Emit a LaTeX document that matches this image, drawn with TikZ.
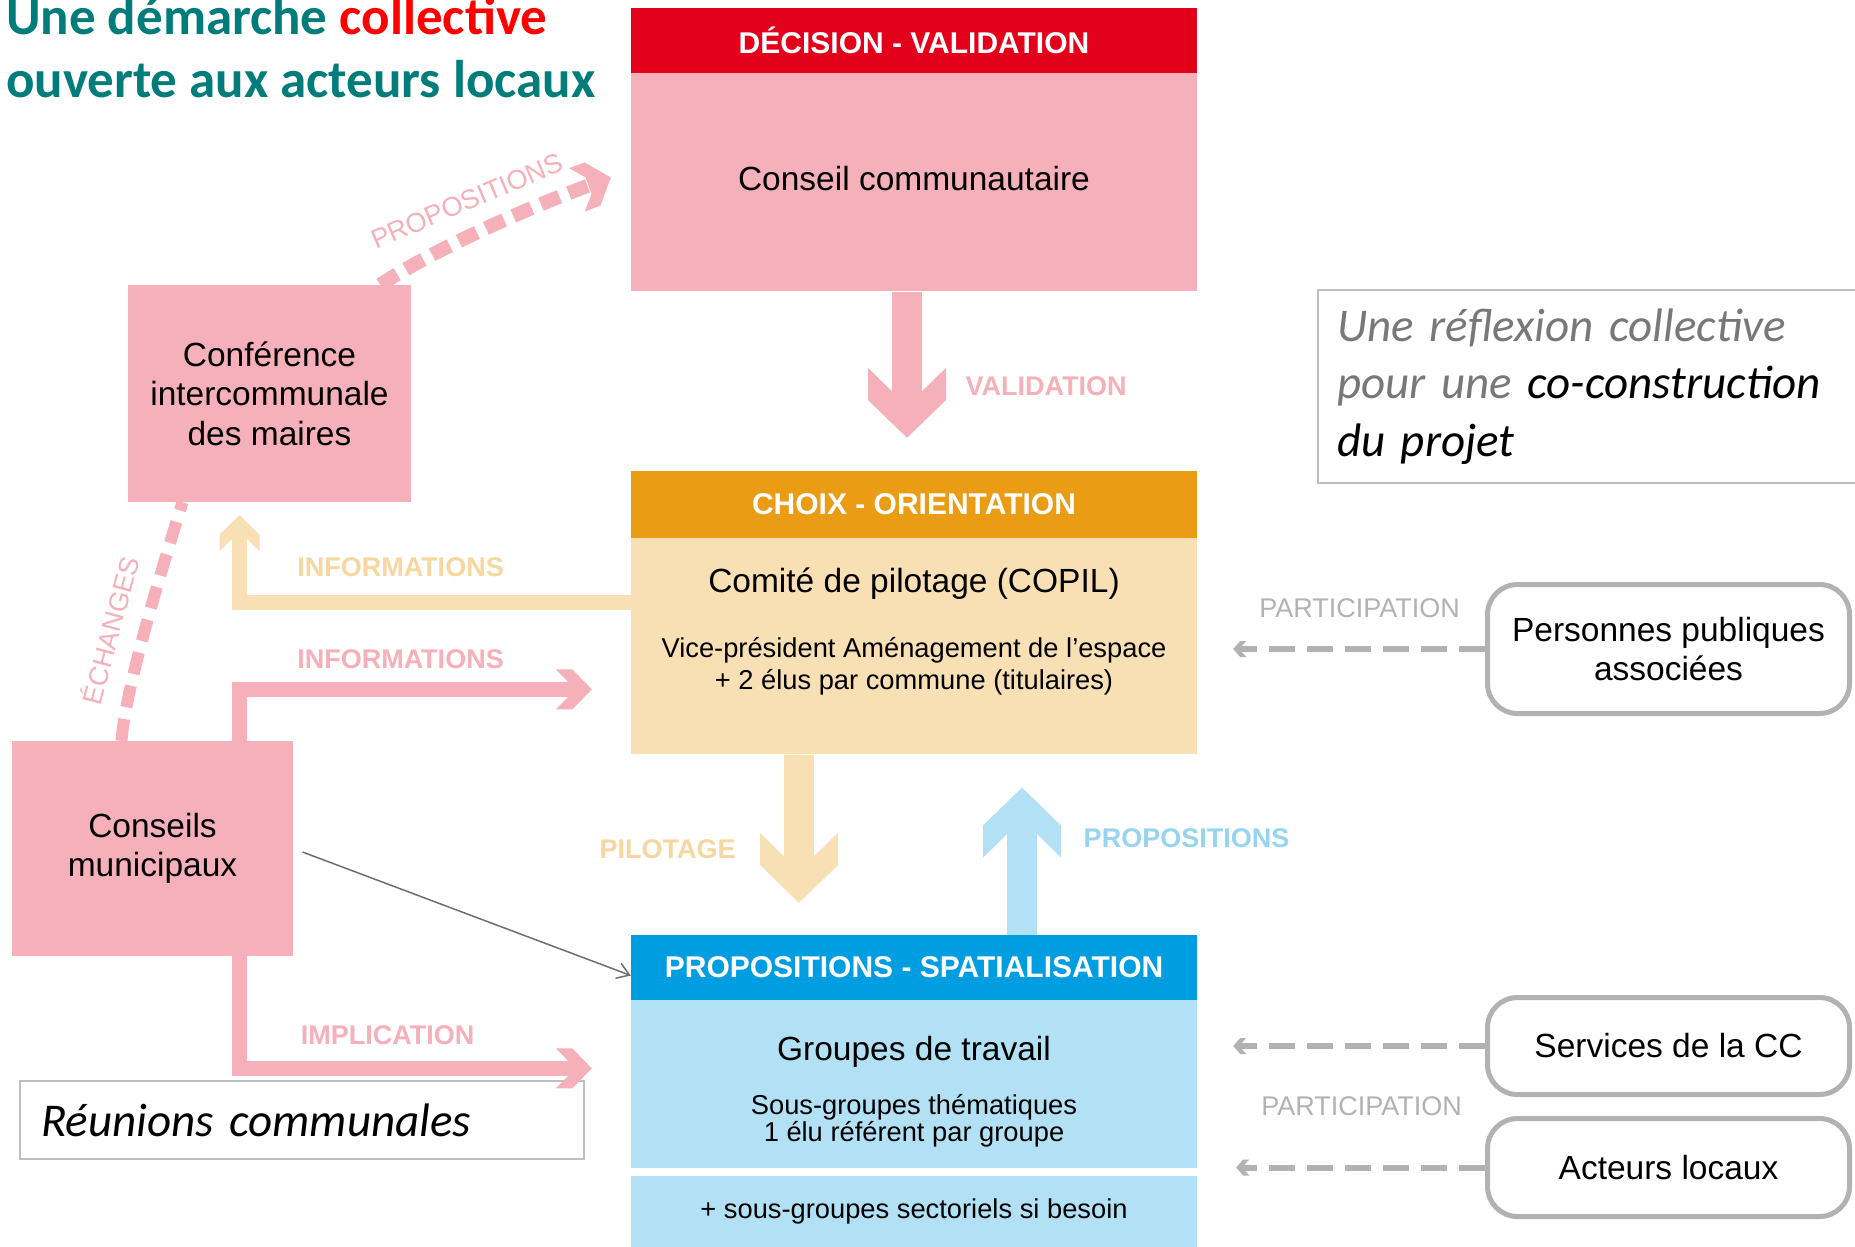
\documentclass[tikz,border=0pt]{standalone}
\usepackage{fontspec}
\setmainfont{Liberation Sans}
\newfontfamily\calibrifam{Carlito}
\usetikzlibrary{arrows.meta, positioning, calc}

\definecolor{titleteal}{RGB}{0,124,122}
\definecolor{titlered}{RGB}{255,0,0}
\definecolor{decisionred}{RGB}{226,0,26}
\definecolor{rosebody}{RGB}{245,176,185}
\definecolor{choixorange}{RGB}{233,156,20}
\definecolor{beigebody}{RGB}{248,223,180}
\definecolor{beigelabel}{RGB}{247,214,160}
\definecolor{propblue}{RGB}{0,158,224}
\definecolor{bluebody}{RGB}{178,225,245}
\definecolor{bluelabel}{RGB}{150,212,240}
\definecolor{partgrey}{RGB}{178,178,178}
\definecolor{notegrey}{RGB}{190,190,190}
\definecolor{notegreytext}{RGB}{120,120,120}
\definecolor{linkgrey}{RGB}{110,110,110}

\newcommand{\boxtxt}{\fontsize{33.5}{39.5}\selectfont}
\newcommand{\headtxt}{\fontsize{30}{36}\selectfont\bfseries}
\newcommand{\subtxt}{\fontsize{27.3}{32}\selectfont}
\newcommand{\arrowlbl}{\fontsize{27}{32}\selectfont\bfseries}
\newcommand{\flowlbl}{\fontsize{27}{32}\selectfont}
\newcommand{\notetxt}{\calibrifam\itshape\fontsize{47}{57.5}\selectfont}

% block arrow head with a notched back
\pgfdeclarearrow{
  name = Chevron,
  parameters = {\the\pgfarrowlength,\the\pgfarrowwidth},
  setup code = {
    \pgfarrowssettipend{0pt}
    \pgfarrowssetlineend{-.6\pgfarrowlength}
    \pgfarrowssetbackend{-\pgfarrowlength}
    \pgfarrowssetvisualbackend{-.6\pgfarrowlength}
    \pgfarrowssavethe\pgfarrowlength
    \pgfarrowssavethe\pgfarrowwidth
  },
  drawing code = {
    \pgfpathmoveto{\pgfpointorigin}
    \pgfpathlineto{\pgfqpoint{-.54\pgfarrowlength}{.5\pgfarrowwidth}}
    \pgfpathlineto{\pgfqpoint{-\pgfarrowlength}{.5\pgfarrowwidth}}
    \pgfpathlineto{\pgfqpoint{-.66\pgfarrowlength}{.19\pgfarrowwidth}}
    \pgfpathlineto{\pgfqpoint{-.66\pgfarrowlength}{-.19\pgfarrowwidth}}
    \pgfpathlineto{\pgfqpoint{-\pgfarrowlength}{-.5\pgfarrowwidth}}
    \pgfpathlineto{\pgfqpoint{-.54\pgfarrowlength}{-.5\pgfarrowwidth}}
    \pgfpathclose
    \pgfusepathqfill
  },
  defaults = {length = 70pt, width = 78pt}
}

\tikzset{
  stagehead/.style={minimum width=566pt, minimum height=65pt, inner sep=0pt, text=white, font=\headtxt},
  stagebody/.style={minimum width=566pt, inner sep=0pt, align=center, font=\boxtxt},
  instance/.style={fill=rosebody, inner sep=0pt, align=center, font=\boxtxt},
  partner/.style={draw=partgrey, line width=5pt, rounded corners=30pt, minimum width=362pt, inner sep=0pt, align=center, font=\boxtxt},
  notebox/.style={draw=notegrey, line width=1.2pt, inner ysep=0pt, align=left, font=\notetxt},
  bigflow/.style={line width=30pt, -{Chevron[length=70pt,width=78pt]}},
  smallflow/.style={line width=15pt, -{Chevron[length=36pt,width=40pt]}},
  pinkdash/.style={color=rosebody, dash pattern=on 20pt off 10pt},
  partflow/.style={color=partgrey, line width=6pt, dash pattern=on 26pt off 12pt, -{Chevron[length=13pt,width=16pt]}},
  thinflow/.style={draw=linkgrey, line width=1.5pt, shorten <=10pt, -{Straight Barb[length=12pt,width=16pt]}},
  flowlabel/.style={inner sep=0pt, font=\arrowlbl},
  partlabel/.style={inner sep=0pt, font=\flowlbl, text=partgrey},
  curvelabel/.style={inner sep=0pt, font=\flowlbl, text=rosebody},
}

\begin{document}
\begin{tikzpicture}[x=1pt, y=-1pt]
  \useasboundingbox (0,0) rectangle (1855,1247);

  % title
  \node[anchor=base west, align=left, inner sep=0pt, text=titleteal,
        font=\calibrifam\bfseries\fontsize{53}{63}\selectfont] (title) at (6,97)
    {Une démarche \textcolor{titlered}{collective}\\ouverte aux acteurs locaux};

  % the three stages
  \node[stagehead, fill=decisionred] (dechead) at (914,40.5) {DÉCISION - VALIDATION};
  \node[stagebody, fill=rosebody, minimum height=218pt, below=0pt of dechead] (conseilcc) {};
  \node[font=\boxtxt] (conseiltxt) at ([yshift=4pt]conseilcc.center) {Conseil communautaire};

  \node[stagehead, fill=choixorange, minimum height=67pt] (choixhead) at (914,504.5) {CHOIX - ORIENTATION};
  \node[stagebody, fill=beigebody, minimum height=216pt, below=0pt of choixhead] (copil) {};
  \node[font=\boxtxt] (copiltitle) at ([yshift=62.5pt]copil.center) {Comité de pilotage (COPIL)};
  \node[font=\subtxt, align=center] (copilsub) at ([yshift=-19.5pt]copil.center)
    {Vice-président Aménagement de l’espace\\+ 2 élus par commune (titulaires)};

  \node[stagehead, fill=propblue] (propshead) at (914,967.5) {PROPOSITIONS - SPATIALISATION};
  \node[stagebody, fill=bluebody, minimum height=168pt, below=0pt of propshead] (groupes) {};
  \node[font=\boxtxt] (groupestitle) at ([yshift=32.5pt]groupes.center) {Groupes de travail};
  \node[font=\subtxt, align=center] (groupessub) at ([yshift=-36pt]groupes.center)
    {Sous-groupes thématiques\\[-5pt]1 élu référent par groupe};
  \node[stagebody, fill=bluebody, minimum height=72pt, font=\subtxt, below=7pt of groupes] (sectoriels)
    {+ sous-groupes sectoriels si besoin};

  % local bodies
  \node[instance, minimum width=283pt, minimum height=217pt] (conf) at (269.5,393.5) {Conférence\\intercommunale\\des maires};
  \node[instance, minimum width=281pt, minimum height=215pt] (munic) at (152.5,848.5) {Conseils\\municipaux};

  % partners
  \node[partner, minimum height=129pt] (ppa) at (1668.5,649) {Personnes publiques\\associées};
  \node[partner, minimum height=97pt] (services) at (1668.5,1046) {Services de la CC};
  \node[partner, minimum height=98pt] (acteurs) at (1668.5,1167.5) {Acteurs locaux};

  % notes
  \node[notebox, minimum width=564pt, minimum height=78pt, inner xsep=21pt, text width=522pt] (reunions) at (302,1120)
    {Réunions communales};
  \node[notebox, minimum height=193pt, inner xsep=19pt, text width=530pt, text=notegreytext] (reflexion) at (1602,386.5)
    {Une réflexion collective\\pour une \textcolor{black}{co-construction}\\\textcolor{black}{du projet}};

  % flows between stages
  \draw[bigflow, color=rosebody] ([xshift=-7pt]conseilcc.south) -- ([xshift=-7pt,yshift=33pt]choixhead.north);
  \draw[bigflow, color=beigebody] ([xshift=-115pt]copil.south) -- ([xshift=-115pt,yshift=32pt]propshead.north);
  \draw[bigflow, color=bluebody] ([xshift=108pt]propshead.north) -- ([xshift=108pt,yshift=-33pt]copil.south);

  \draw[smallflow, color=beigebody] ([yshift=44pt]copil.west) -| ([xshift=-30pt,yshift=-13pt]conf.south);
  \draw[smallflow, color=rosebody] ([xshift=87pt]munic.north) |- ([xshift=-39pt,yshift=-43pt]copil.west);
  \draw[smallflow, color=rosebody] ([xshift=87pt]munic.south) |- ([xshift=-39pt,yshift=16pt]groupes.west);

  \draw[pinkdash, line width=14pt, -{Chevron[length=36pt,width=46pt]}] ([xshift=-31pt]conf.north east)
    .. controls +(50,-33) and +(-90,33) .. ([xshift=-20pt,yshift=5pt]conseilcc.west);
  \draw[pinkdash, line width=12pt, dash pattern=on 22pt off 12pt] ([xshift=-31pt]munic.north)
    .. controls +(4,-55) and +(-17,55) .. ([xshift=-87pt]conf.south);

  \draw[partflow, shorten >=36pt] (ppa.west) -- (ppa.west -| copil.east);
  \draw[partflow, shorten >=36pt] (services.west) -- (services.west -| groupes.east);
  \draw[partflow, shorten >=39pt] (acteurs.west) -- (acteurs.west -| groupes.east);

  \draw[thinflow] (munic.east) -- ([yshift=-8pt]propshead.west);

  % labels
  \node[flowlabel, text=rosebody] (validlbl) at (1046,386) {VALIDATION};
  \node[flowlabel, text=beigelabel] (pilotlbl) at (667.5,849) {PILOTAGE};
  \node[flowlabel, text=bluelabel] (proplbl) at (1186.5,838) {PROPOSITIONS};
  \node[flowlabel, text=beigelabel] (infolbl) at (400.5,567) {INFORMATIONS};
  \node[flowlabel, text=rosebody] (infopinklbl) at (400.5,659) {INFORMATIONS};
  \node[flowlabel, text=rosebody] (implilbl) at (387.5,1035) {IMPLICATION};
  \node[partlabel] (partlbl) at (1359.5,608) {PARTICIPATION};
  \node[partlabel] (partlbltwo) at (1361.5,1106) {PARTICIPATION};
  \node[curvelabel, rotate=75] (echlbl) at (109,630) {ÉCHANGES};
  \node[curvelabel, rotate=23] (conflbl) at (467,201) {PROPOSITIONS};
\end{tikzpicture}
\end{document}
